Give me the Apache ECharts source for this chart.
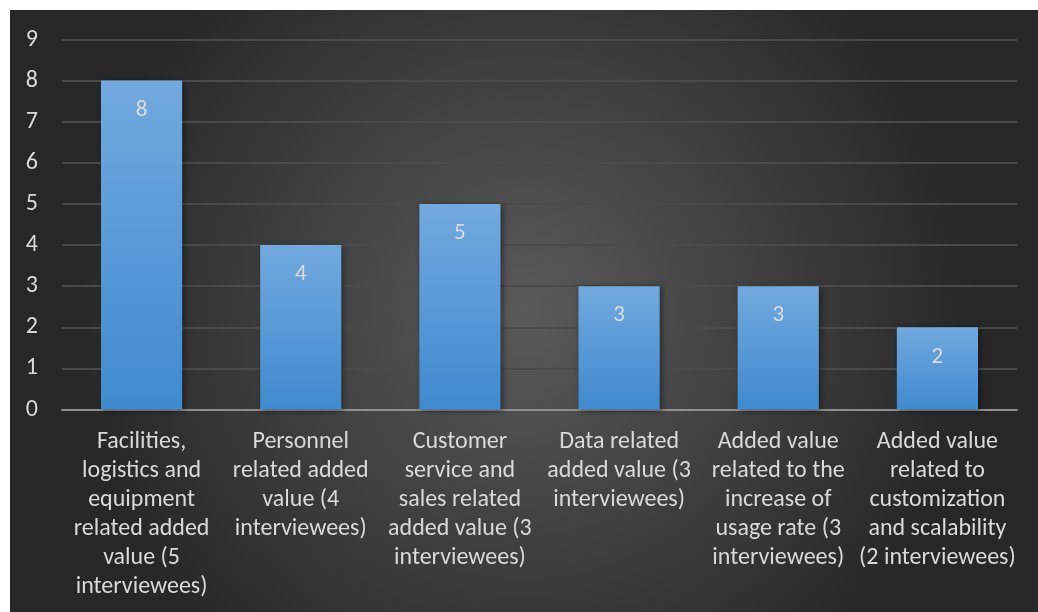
<!DOCTYPE html>
<html>
<head>
<meta charset="utf-8">
<script src="https://cdn.jsdelivr.net/npm/echarts@6/dist/echarts.min.js"></script>
<style>
  html, body { margin: 0; padding: 0; background: #ffffff; }
  #chart { position: absolute; left: 10px; top: 10px; width: 1028px; height: 602px; }
</style>
</head>
<body>
<div id="chart"></div>
<script>
// Categories of added value, with the interviewee counts in brackets
const categories = [
  'Facilities,\nlogistics and\nequipment\nrelated added\nvalue (5\ninterviewees)',
  'Personnel\nrelated added\nvalue (4\ninterviewees)',
  'Customer\nservice and\nsales related\nadded value (3\ninterviewees)',
  'Data related\nadded value (3\ninterviewees)',
  'Added value\nrelated to the\nincrease of\nusage rate (3\ninterviewees)',
  'Added value\nrelated to\ncustomization\nand scalability\n(2 interviewees)'
];
// Number of mentions per category
const mentions = [8, 4, 5, 3, 3, 2];
// Value axis range
const yMin = 0;
const yMax = 9;
const yStep = 1;

const FONT = 'Carlito, Calibri, "Liberation Sans Narrow", "Open Sans", sans-serif';
const chart = echarts.init(document.getElementById('chart'));

chart.setOption({
  animation: false,
  backgroundColor: {
    type: 'radial', x: 0.5, y: 0.5, r: 0.75,
    colorStops: [
      { offset: 0, color: '#5a5a5a' },
      { offset: 1, color: '#272727' }
    ]
  },
  grid: { left: 52, right: 21, top: 29.5, bottom: 202.5, containLabel: false },
  xAxis: {
    type: 'category',
    data: categories,
    axisTick: { show: false },
    axisLine: { lineStyle: { color: '#8f8f8f', width: 2 } },
    axisLabel: {
      color: '#d9d9d9',
      fontFamily: FONT,
      fontSize: 24,
      lineHeight: 29,
      margin: 18,
      interval: 0,
      align: 'center'
    }
  },
  yAxis: {
    type: 'value',
    min: yMin,
    max: yMax,
    interval: yStep,
    axisLine: { show: false },
    axisTick: { show: false },
    splitLine: { lineStyle: { color: '#4a4a4a', width: 2 } },
    axisLabel: {
      color: '#d9d9d9',
      fontFamily: FONT,
      fontSize: 24,
      margin: 24
    }
  },
  series: [{
    type: 'bar',
    data: mentions,
    barWidth: '51%',
    itemStyle: {
      color: {
        type: 'linear', x: 0, y: 0, x2: 0, y2: 1,
        colorStops: [
          { offset: 0, color: '#72a9df' },
          { offset: 1, color: '#3f8acf' }
        ]
      },
      shadowColor: 'rgba(0,0,0,0.45)',
      shadowBlur: 6,
      shadowOffsetX: 2,
      shadowOffsetY: 1
    },
    label: {
      show: true,
      position: 'insideTop',
      distance: 18,
      color: '#dcdcdc',
      fontFamily: FONT,
      fontSize: 23
    }
  }]
});
</script>
</body>
</html>
